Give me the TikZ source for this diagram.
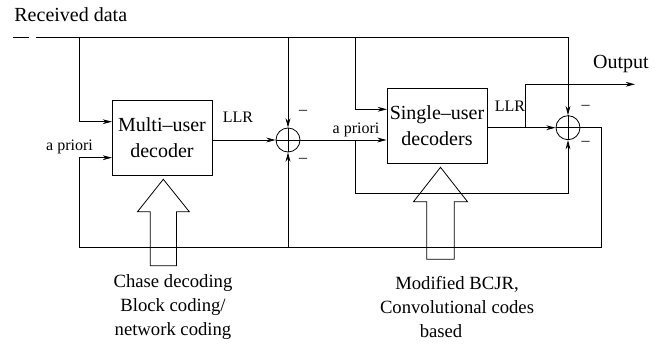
\documentclass[tikz,border=0pt]{standalone}
\usepackage{fontspec}
\setmainfont{Liberation Serif}
\usetikzlibrary{arrows.meta}

\begin{document}
\begin{tikzpicture}[x=0.75pt,y=0.75pt,yscale=-1,xscale=1,
    line width=0.6pt,
    arr/.style={-{Stealth[length=7pt,width=3.6pt]}},
    decbox/.style={draw,minimum width=75pt,minimum height=56.25pt,inner sep=0pt,align=center,font=\fontsize{15}{19.5}\selectfont},
    sumnode/.style={draw,circle,minimum size=18pt,inner sep=0pt},
    smalllbl/.style={inner sep=0.75pt,font=\fontsize{12}{14}\selectfont},
    biglbl/.style={inner sep=0.75pt,font=\fontsize{15}{18}\selectfont},
    notelbl/.style={inner sep=0.75pt,align=center,font=\fontsize{14}{18}\selectfont}]
        \useasboundingbox (0,0) rectangle (672,346);

        %Shape: decoders
        \node [decbox] (mud) at (162,137.5) {Multi–user\\decoder};
        \node [decbox] (sud) at (437,125.8) {Single–user\\decoders};

        %Shape: adders
        \node [sumnode] (s1) at (288,140) {};
        \node [sumnode] (s2) at (568,127.7) {};
        \draw (s1.north) -- (s1.south) (s1.west) -- (s1.east);
        \draw (s2.north) -- (s2.south) (s2.west) -- (s2.east);

        % branch points
        \coordinate (rd0) at (13,37.7);
        \coordinate (rd1) at (29,37.7);
        \coordinate (rd) at (36,37.7);
        \coordinate (t1) at (79,37.7);
        \coordinate (t2) at (288,37.7);
        \coordinate (t3) at (355,37.7);
        \coordinate (mua) at (112,121.7);
        \coordinate (mub) at (112,157.7);
        \coordinate (sua) at (387,109.3);
        \coordinate (b1) at (355,140);
        \coordinate (lp) at (568,193.3);
        \coordinate (o1) at (525,127.7);
        \coordinate (out) at (635,84.3);
        \coordinate (fbr) at (601.7,247.3);
        \coordinate (fbl) at (79,247.3);

        % received data
        \draw (rd0) -- (rd1);
        \draw [arr] (rd) -| (s2.north);
        \draw [arr] (t1) |- (mua);
        \draw [arr] (t2) -- (s1.north);
        \draw [arr] (t3) |- (sua);

        % decoder outputs
        \draw [arr] (mud.east |- s1) -- (s1.west);
        \draw [arr] (s1.east) -- (sud.west |- s1);
        \draw [arr] (b1) |- (lp) -- (s2.south);
        \draw [arr] (sud.east |- s2) -- (s2.west);
        \draw [arr] (o1) |- (out);

        % feedback
        \draw [arr] (s2.east) -| (fbr) -- (fbl) |- (mub);
        \draw [arr] (s1.south |- fbl) -- (s1.south);

        %Shape: block arrows
        \draw (163.3,179.3) -- (189.3,211.7) -- (176.5,211.7) -- (176.5,265.7) -- (150.3,265.7) -- (150.3,211.7) -- (137.5,211.7) -- cycle;
        \draw (440.5,167.3) -- (467.5,201.7) -- (454.3,201.7) -- (454.3,259.3) -- (426.7,259.3) -- (426.7,201.7) -- (413.5,201.7) -- cycle;

        % Text Node
        \node [biglbl,anchor=base west] (rdl) at (13,21.5) {Received data};
        \node [biglbl,anchor=base] (outl) at (621,68.3) {Output};
        \node [smalllbl,anchor=base] (llr1) at (238,122.7) {LLR};
        \node [smalllbl,anchor=base] (llr2) at (510,111.7) {LLR};
        \node [smalllbl,anchor=base] (ap1) at (69.5,151) {a priori};
        \node [smalllbl,anchor=base] (ap2) at (356,133.3) {a priori};
        \node [smalllbl] (m1) at (303,112) {–};
        \node [smalllbl] (m2) at (303,160) {–};
        \node [smalllbl] (m3) at (585.5,107) {–};
        \node [smalllbl] (m4) at (585.5,143.5) {–};
        \node [notelbl] (n1) at (173,307) {Chase decoding\\Block coding/\\network coding};
        \node [notelbl] (n2) at (457,307) {Modified BCJR,\\Convolutional codes\\based\hspace*{24pt}};

\end{tikzpicture}
\end{document}
